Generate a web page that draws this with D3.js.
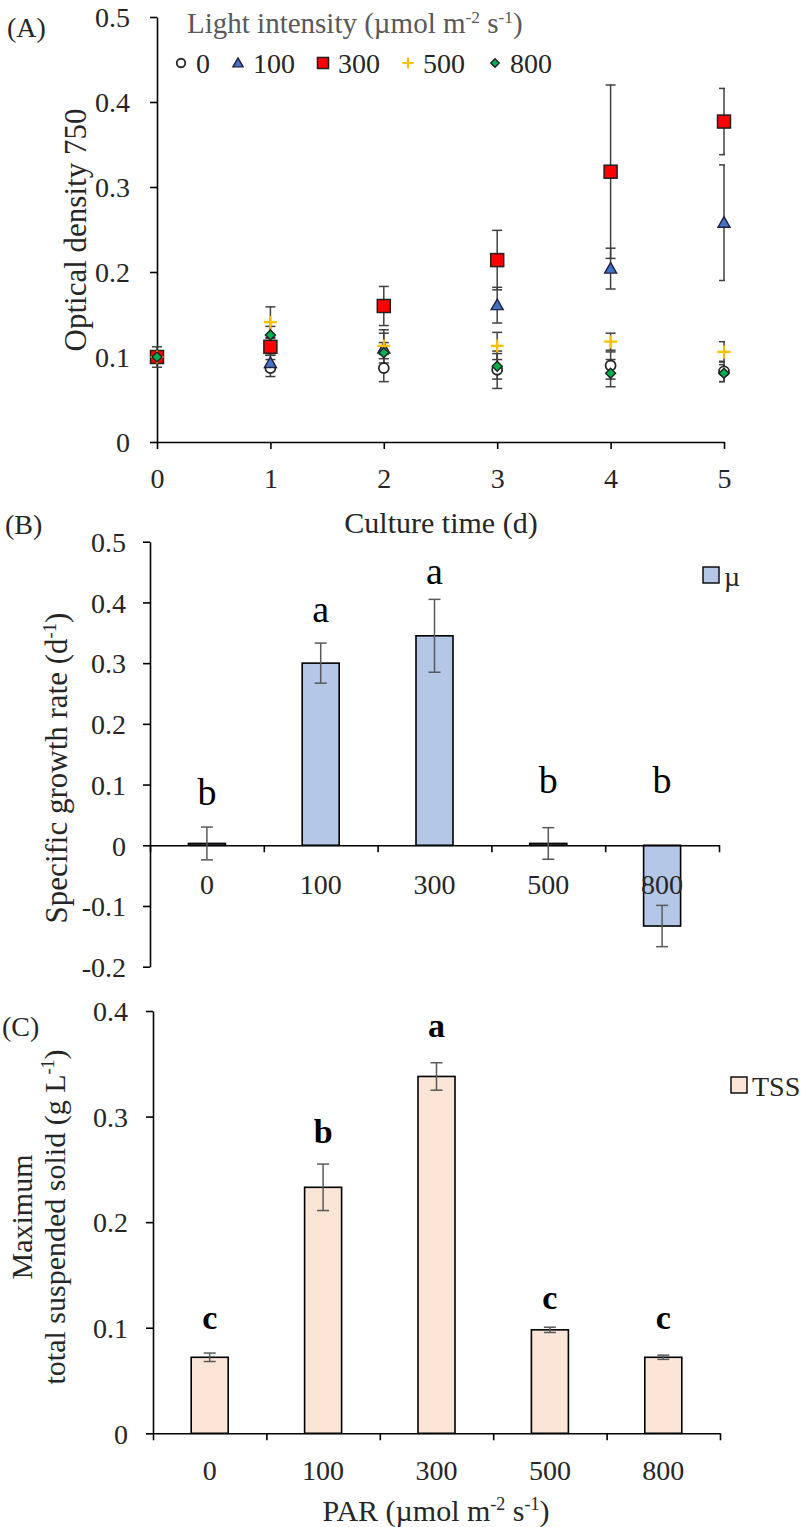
<!DOCTYPE html>
<html><head><meta charset="utf-8">
<script src="https://cdn.jsdelivr.net/npm/d3@7"></script>
<style>
body{margin:0;background:#fff}
svg{display:block}
text{font-family:"Liberation Serif","Times New Roman",serif;}
</style>
</head><body>
<svg id="c" width="801" height="1527"></svg>
<script>
// ---------- Panel A data ----------
const days = [0, 1, 2, 3, 4, 5];
const lightLevels = ["0", "100", "300", "500", "800"];
const od0   = [0.100, 0.087, 0.087, 0.085, 0.090, 0.083];
const od100 = [0.100, 0.093, 0.110, 0.161, 0.204, 0.258];
const od300 = [0.100, 0.112, 0.160, 0.214, 0.318, 0.377];
const od500 = [0.100, 0.141, 0.113, 0.113, 0.118, 0.106];
const od800 = [0.100, 0.126, 0.105, 0.089, 0.081, 0.081];
const sd0   = [0.006, 0.010, 0.016, 0.022, 0.016, 0.012];
const sd100 = [0.006, 0.009, 0.022, 0.021, 0.024, 0.068];
const sd300 = [0.005, 0.010, 0.023, 0.035, 0.102, 0.039];
const sd500 = [0.012, 0.018, 0.015, 0.016, 0.010, 0.012];
const sd800 = [0.006, 0.010, 0.012, 0.015, 0.016, 0.010];
const yTicksA = [0, 0.1, 0.2, 0.3, 0.4, 0.5];

// ---------- Panel B data ----------
const par = ["0", "100", "300", "500", "800"];
const mu = [0.003, 0.300, 0.345, 0.003, -0.133];
const muErr = [0.027, 0.033, 0.060, 0.026, 0.034];
const muLetters = ["b", "a", "a", "b", "b"];
const muLetterY = [0.088, 0.389, 0.452, 0.108, 0.108];
const yTicksB = [-0.2, -0.1, 0, 0.1, 0.2, 0.3, 0.4, 0.5];

// ---------- Panel C data ----------
const tss = [0.072, 0.233, 0.338, 0.098, 0.072];
const tssErr = [0.004, 0.022, 0.013, 0.0025, 0.002];
const tssLetters = ["c", "b", "a", "c", "c"];
const tssLetterY = [0.110, 0.286, 0.387, 0.129, 0.110];
const yTicksC = [0, 0.1, 0.2, 0.3, 0.4];

const svg = d3.select("#c");
const FS = 28;     // tick / legend text
const TFS = 30;    // axis titles
const TXT = "#262626";

function styleAxis(g){
  g.selectAll(".domain").attr("stroke","#000").attr("stroke-width",1.6);
  g.selectAll(".tick line").attr("stroke","#000").attr("stroke-width",1.6);
  g.selectAll("text").attr("font-size",FS).attr("fill",TXT)
   .attr("font-family",'"Liberation Serif","Times New Roman",serif');
}
function supText(t, parts, fs){
  let up = false;
  parts.forEach(([s,sup])=>{
    const sp = t.append("tspan").text(s);
    if(sup && !up){ sp.attr("font-size",fs*0.6).attr("dy",-fs*0.35); up=true; }
    else if(sup && up){ sp.attr("font-size",fs*0.6); }
    else if(!sup && up){ sp.attr("dy",fs*0.35); up=false; }
  });
}

// ======================= PANEL A =======================
const xA = d3.scaleLinear().domain([0,5]).range([157,724]);
const yA = d3.scaleLinear().domain([0,0.5]).range([442,17]);

const gAy = svg.append("g").attr("transform",`translate(${xA(0)},0)`)
  .call(d3.axisLeft(yA).tickValues(yTicksA).tickSize(7).tickSizeOuter(0)
        .tickFormat(d=> d===0 ? "0" : d3.format(".1f")(d)));
styleAxis(gAy);
gAy.selectAll("text").attr("x",-27).attr("dy","0.35em");

const gAx = svg.append("g").attr("transform",`translate(0,${yA(0)})`)
  .call(d3.axisBottom(xA).tickValues(days).tickSize(7).tickSizeOuter(0).tickFormat(d3.format("d")));
styleAxis(gAx);
gAx.selectAll("text").attr("y",36).attr("dy","0.35em");

svg.append("text").attr("x",7).attr("y",27).attr("dy","0.35em").attr("font-size",FS).attr("fill",TXT).text("(A)");

const seriesA = [
  {name:"0",   v:od0,   e:sd0},
  {name:"100", v:od100, e:sd100},
  {name:"300", v:od300, e:sd300},
  {name:"500", v:od500, e:sd500},
  {name:"800", v:od800, e:sd800}
];

svg.append("clipPath").attr("id","clipA").append("rect")
  .attr("x",0).attr("y",0).attr("width",xA(5)+1).attr("height",460);

const errG = svg.append("g").attr("clip-path","url(#clipA)");
seriesA.forEach(s=>{
  days.forEach((d,i)=>{
    const cx = xA(d), t = yA(s.v[i]+s.e[i]), b = yA(s.v[i]-s.e[i]);
    errG.append("line").attr("x1",cx).attr("x2",cx).attr("y1",t).attr("y2",b)
      .attr("stroke","#404040").attr("stroke-width",1.5);
    [t,b].forEach(yy=> errG.append("line").attr("x1",cx-5).attr("x2",cx+5)
      .attr("y1",yy).attr("y2",yy).attr("stroke","#404040").attr("stroke-width",1.5));
  });
});

function marker(g, name, cx, cy, scale){
  const k = scale || 1;
  if(name==="0"){
    g.append("circle").attr("cx",cx).attr("cy",cy).attr("r",5*k)
      .attr("fill","#fff").attr("stroke","#262626").attr("stroke-width",1.8);
  } else if(name==="100"){
    const s=6*k;
    g.append("path").attr("d",`M${cx},${cy-s}L${cx+s},${cy+s*0.75}L${cx-s},${cy+s*0.75}Z`)
      .attr("fill","#4472C4").attr("stroke","#1f1f3f").attr("stroke-width",1.4);
  } else if(name==="300"){
    const s=6.5*k;
    g.append("rect").attr("x",cx-s).attr("y",cy-s).attr("width",2*s).attr("height",2*s)
      .attr("fill","#FF0000").attr("stroke","#202020").attr("stroke-width",1.5);
  } else if(name==="500"){
    const s=6.5*k;
    g.append("path").attr("d",`M${cx-s},${cy}H${cx+s}M${cx},${cy-s}V${cy+s}`)
      .attr("stroke","#FFC000").attr("stroke-width",2.2);
  } else {
    const s=5*k;
    g.append("path").attr("d",`M${cx},${cy-s}L${cx+s},${cy}L${cx},${cy+s}L${cx-s},${cy}Z`)
      .attr("fill","#00B050").attr("stroke","#202020").attr("stroke-width",1.4);
  }
}

const mkG = svg.append("g");
seriesA.forEach(s=>{
  days.forEach((d,i)=> marker(mkG, s.name, xA(d), yA(s.v[i])));
});

// legend A
svg.append("text").attr("x",187).attr("y",23).attr("dy","0.35em").attr("font-size",29)
  .attr("fill","#595959")
  .call(t=> supText(t, [["Light intensity (µmol m",0],["-2",1],[" s",0],["-1",1],[")",0]], 29));
const legX = [181, 238, 323, 408, 495];
const legG = svg.append("g");
lightLevels.forEach((n,i)=>{
  marker(legG, n, legX[i], 63, 0.85);
  legG.append("text").attr("x",legX[i]+15).attr("y",63).attr("dy","0.35em")
    .attr("font-size",FS).attr("fill",TXT).text(n);
});

svg.append("text").attr("transform","translate(75,230) rotate(-90)")
  .attr("text-anchor","middle").attr("dy","0.35em").attr("font-size",TFS+1).attr("fill",TXT)
  .text("Optical density 750");
svg.append("text").attr("x",441).attr("y",522).attr("dy","0.35em").attr("text-anchor","middle")
  .attr("font-size",TFS).attr("fill",TXT).text("Culture time (d)");

// ======================= PANEL B =======================
const xB = d3.scaleBand().domain(par).range([150,719]).paddingInner(0).paddingOuter(0);
const xBt = d3.scaleLinear().domain([0,par.length]).range([150,719]);
const yB = d3.scaleLinear().domain([-0.2,0.5]).range([966.7,541.7]);
const barW = 37;

const gBy = svg.append("g").attr("transform",`translate(150,0)`)
  .call(d3.axisLeft(yB).tickValues(yTicksB).tickSize(7).tickSizeOuter(0)
        .tickFormat(d=> d===0 ? "0" : d3.format(".1f")(d).replace("−","-")));
styleAxis(gBy);
gBy.selectAll("text").attr("x",-24).attr("dy","0.35em");

svg.append("text").attr("x",5).attr("y",524).attr("dy","0.35em").attr("font-size",FS).attr("fill",TXT).text("(B)");

const barsB = svg.append("g");
par.forEach((c,i)=>{
  const y0 = yB(0), y1 = yB(mu[i]);
  barsB.append("rect").attr("x",xB(c)+xB.bandwidth()/2-barW/2).attr("width",barW)
    .attr("y",Math.min(y0,y1)).attr("height",Math.max(1,Math.abs(y1-y0)))
    .attr("fill","#B4C7E7").attr("stroke","#000").attr("stroke-width",1.6);
});

const gBx = svg.append("g").attr("transform",`translate(0,${yB(0)})`)
  .call(d3.axisBottom(xBt).tickValues(d3.range(par.length+1)).tickSize(7).tickSizeOuter(0).tickFormat(""));
styleAxis(gBx);
const gBl = svg.append("g").attr("transform",`translate(0,${yB(0)})`)
  .call(d3.axisBottom(xB).tickSize(0).tickPadding(0));
gBl.select(".domain").remove();
styleAxis(gBl);
gBl.selectAll("text").attr("y",39).attr("dy","0.35em");

const ebB = svg.append("g");
par.forEach((c,i)=>{
  const cx = xB(c)+xB.bandwidth()/2, t=yB(mu[i]+muErr[i]), b=yB(mu[i]-muErr[i]);
  ebB.append("line").attr("x1",cx).attr("x2",cx).attr("y1",t).attr("y2",b).attr("stroke","#595959").attr("stroke-width",1.5);
  [t,b].forEach(yy=> ebB.append("line").attr("x1",cx-6).attr("x2",cx+6).attr("y1",yy).attr("y2",yy).attr("stroke","#595959").attr("stroke-width",1.5));
  ebB.append("text").attr("x",cx).attr("y",yB(muLetterY[i])).attr("dy","0.35em").attr("text-anchor","middle")
    .attr("font-size",38).attr("fill","#000").text(muLetters[i]);
});

svg.append("text").attr("transform","translate(56,768) rotate(-90)")
  .attr("text-anchor","middle").attr("dy","0.35em").attr("font-size",TFS+1).attr("fill",TXT)
  .call(t=> supText(t, [["Specific growth rate (d",0],["-1",1],[")",0]], TFS+1));

svg.append("rect").attr("x",703).attr("y",567).attr("width",16).attr("height",16)
  .attr("fill","#B4C7E7").attr("stroke","#000").attr("stroke-width",1.4);
svg.append("text").attr("x",724).attr("y",576).attr("dy","0.35em").attr("font-size",FS).attr("fill",TXT).text("µ");

// ======================= PANEL C =======================
const xC = d3.scaleBand().domain(par).range([153,720]).paddingInner(0).paddingOuter(0);
const xCt = d3.scaleLinear().domain([0,par.length]).range([153,720]);
const yC = d3.scaleLinear().domain([0,0.4]).range([1433.3,1011]);

const gCy = svg.append("g").attr("transform",`translate(153,0)`)
  .call(d3.axisLeft(yC).tickValues(yTicksC).tickSize(7).tickSizeOuter(0)
        .tickFormat(d=> d===0 ? "0" : d3.format(".1f")(d)));
styleAxis(gCy);
gCy.selectAll("text").attr("x",-25).attr("dy","0.35em");

svg.append("text").attr("x",2).attr("y",1026).attr("dy","0.35em").attr("font-size",FS).attr("fill",TXT).text("(C)");

const barsC = svg.append("g");
par.forEach((c,i)=>{
  barsC.append("rect").attr("x",xC(c)+xC.bandwidth()/2-barW/2).attr("width",barW)
    .attr("y",yC(tss[i])).attr("height",yC(0)-yC(tss[i]))
    .attr("fill","#FBE5D6").attr("stroke","#000").attr("stroke-width",1.6);
});
const gCx = svg.append("g").attr("transform",`translate(0,${yC(0)})`)
  .call(d3.axisBottom(xCt).tickValues(d3.range(par.length+1)).tickSize(7).tickSizeOuter(0).tickFormat(""));
styleAxis(gCx);
const gCl = svg.append("g").attr("transform",`translate(0,${yC(0)})`)
  .call(d3.axisBottom(xC).tickSize(0).tickPadding(0));
gCl.select(".domain").remove();
styleAxis(gCl);
gCl.selectAll("text").attr("y",37).attr("dy","0.35em");

const ebC = svg.append("g");
par.forEach((c,i)=>{
  const cx = xC(c)+xC.bandwidth()/2, t=yC(tss[i]+tssErr[i]), b=yC(tss[i]-tssErr[i]);
  ebC.append("line").attr("x1",cx).attr("x2",cx).attr("y1",t).attr("y2",b).attr("stroke","#595959").attr("stroke-width",1.5);
  [t,b].forEach(yy=> ebC.append("line").attr("x1",cx-6).attr("x2",cx+6).attr("y1",yy).attr("y2",yy).attr("stroke","#595959").attr("stroke-width",1.5));
  ebC.append("text").attr("x",cx).attr("y",yC(tssLetterY[i])).attr("dy","0.35em").attr("text-anchor","middle")
    .attr("font-size",34).attr("font-weight","bold").attr("fill","#000").text(tssLetters[i]);
});

svg.append("text").attr("transform","translate(21,1217) rotate(-90)")
  .attr("text-anchor","middle").attr("dy","0.35em").attr("font-size",TFS).attr("fill",TXT).text("Maximum");
svg.append("text").attr("transform","translate(54,1217) rotate(-90)")
  .attr("text-anchor","middle").attr("dy","0.35em").attr("font-size",TFS).attr("fill",TXT)
  .call(t=> supText(t, [["total suspended solid (g L",0],["-1",1],[")",0]], TFS));

svg.append("text").attr("x",436).attr("y",1510).attr("dy","0.35em").attr("text-anchor","middle")
  .attr("font-size",TFS).attr("fill",TXT)
  .call(t=> supText(t, [["PAR (µmol m",0],["-2",1],[" s",0],["-1",1],[")",0]], TFS));

svg.append("rect").attr("x",731).attr("y",1077).attr("width",16).attr("height",16)
  .attr("fill","#FBE5D6").attr("stroke","#000").attr("stroke-width",1.4);
svg.append("text").attr("x",752).attr("y",1086).attr("dy","0.35em").attr("font-size",FS).attr("fill",TXT).text("TSS");
</script>
</body></html>
